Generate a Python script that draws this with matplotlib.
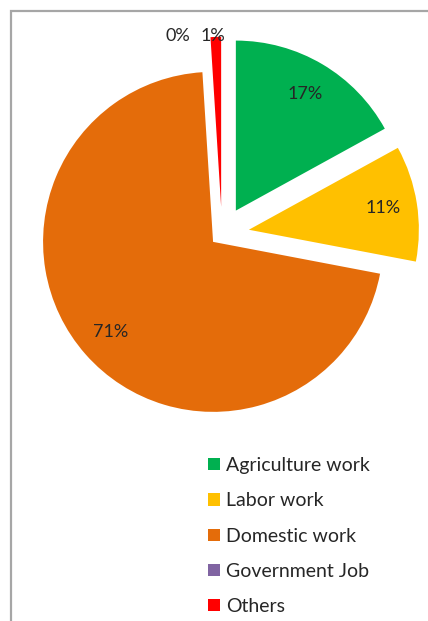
import matplotlib
matplotlib.use("Agg")
import matplotlib.pyplot as plt
from matplotlib.patches import Rectangle
import numpy as np

# === Dados ===
categorias = ["Agriculture work", "Labor work", "Domestic work", "Government Job", "Others"]
percentuais = [17, 11, 71, 0, 1]
cores = ["#00B050", "#FFC000", "#E46C0A", "#8064A2", "#FF0000"]
explode = [0.16, 0.16, 0.07, 0.16, 0.16]

plt.rcParams["font.family"] = ["Lato", "DejaVu Sans"]

W, H = 428, 621
fig = plt.figure(figsize=(W / 100, H / 100), dpi=100)
ax = fig.add_axes([0, 0, 1, 1])

# moldura cinza do gráfico
ax.add_patch(Rectangle((11, -20), W, H - 11 + 20, fill=False,
                       edgecolor="#A6A6A6", linewidth=1.6))

R = 170
centro = (222, H - 234)
# no matplotlib o explode é em unidades de dados, então escala pelo raio
wedges, textos, pcts = ax.pie(
    percentuais, colors=cores, explode=[e * R for e in explode], startangle=90,
    counterclock=False, radius=R, center=centro, autopct="%1.0f%%",
    pctdistance=0.8, wedgeprops=dict(linewidth=0),
    textprops=dict(fontsize=13, color="#262626"), frame=True)
ax.set_xlim(0, W)
ax.set_ylim(0, H)
ax.set_aspect("equal")
ax.axis("off")

# rótulos das fatias pequenas ficam acima do gráfico
pcts[3].set_position((centro[0] - 44, centro[1] + 198))
pcts[4].set_position((centro[0] - 9, centro[1] + 198))

fig.legend(wedges, categorias, loc="upper left",
           bbox_to_anchor=(208 / W, 1 - 457 / H), frameon=False,
           fontsize=14, handlelength=0.6, handleheight=0.6,
           handletextpad=0.35, labelspacing=0.94, borderpad=0,
           borderaxespad=0, labelcolor="#262626")

fig.savefig("out.png", dpi=100)
